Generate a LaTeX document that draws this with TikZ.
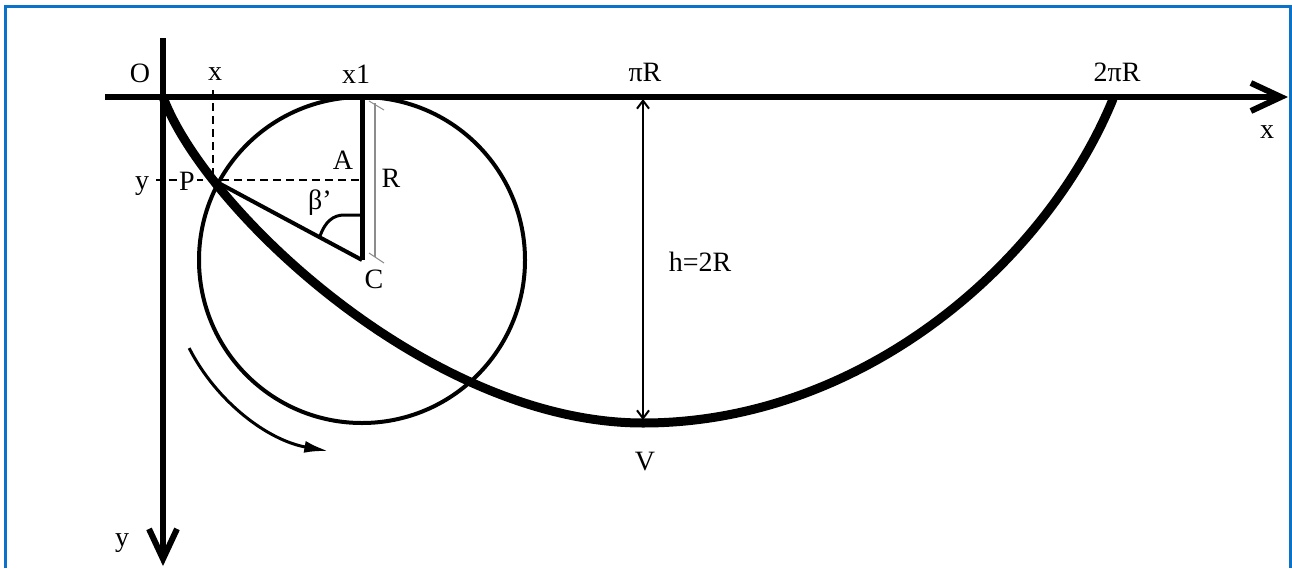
\documentclass[tikz,border=0pt]{standalone}
\usepackage{fontspec}
\setmainfont{Liberation Serif}
\usepackage{tikz}
\usetikzlibrary{arrows.meta,positioning,calc}
\definecolor{FrameBlue}{HTML}{0A72C8}
\definecolor{DimGray}{HTML}{8C8C8C}

\begin{document}
\begin{tikzpicture}[x=1pt,y=-1pt,lbl/.style={inner sep=0pt,font=\fontsize{28}{30}\selectfont},axisline/.style={line width=6pt,-{Straight Barb[length=30pt,width=28pt]}},helpline/.style={dashed,line width=2.5pt,dash pattern=on 8pt off 5pt}]
\useasboundingbox (0,0) rectangle (1292,568);
\draw[FrameBlue,line width=3pt] (5,568) |- (1290,6) -- (1290,568);
% points
\coordinate (O) at (163,97);\coordinate (Xs) at (105,97);\coordinate (Xe) at (1288,97);
\coordinate (Ys) at (163,38);\coordinate (Ye) at (163,566);
\coordinate (P) at (213,180);\coordinate (C) at (362,260);\coordinate (X1) at (362,97);\coordinate (A) at (362,180);
\coordinate (Xp) at (213,90);\coordinate (Yp) at (156,180);
\coordinate (V) at (643,423);\coordinate (E) at (1113,99);
\coordinate (Htop) at (643,99);\coordinate (Hbot) at (643,420);
% rolling circle and cycloid
\draw[line width=4pt] (C) circle[radius=163pt];
\draw[line width=9pt,line cap=round] (O) .. controls (205,210) and (430,423) .. (V) .. controls (860,423) and (1045,265) .. (E);
\draw[line width=3pt,-{Latex[length=24pt,width=12pt]}] ($(C)+(153:194)$) arc[start angle=153,end angle=100,radius=194];
% construction lines
\draw[helpline] (Xp) -- (P);\draw[helpline] (Yp) -- (A);
\draw[line width=5pt] (X1) -- (C);\draw[line width=4pt] (P) -- (C);
\draw[line width=3pt] (320,236) .. controls (325,222) and (333,215) .. (344,215) -- (361,215);
\draw[DimGray,line width=1.2pt] (375,103) -- (375,257);
\draw[DimGray,line width=1pt] (369,101) -- (384,110);\draw[DimGray,line width=1pt] (369,253) -- (384,263);
\draw[line width=2pt,{Straight Barb[length=8pt,width=12pt]}-{Straight Barb[length=8pt,width=12pt]}] (Htop) -- (Hbot);
% axes
\draw[axisline] (Xs) -- (Xe);\draw[axisline] (Ys) -- (Ye);
% labels
\node[lbl] (lO) at (140,73) {O};
\node[lbl] (lx) at (215,74) {x};
\node[lbl] (lx1) at (356,74) {x1};
\node[lbl] (lpiR) at (645,72) {πR};
\node[lbl] (l2piR) at (1117,72) {2πR};
\node[lbl] (lxaxis) at (1267,132) {x};
\node[lbl] (ly) at (142,186) {y};
\node[lbl,fill=white,inner sep=2pt] (lP) at (187,181) {P};
\node[lbl] (lA) at (343,160) {A};
\node[lbl] (lR) at (391,178) {R};
\node[lbl] (lbeta) at (320,203) {β'};
\node[lbl] (lC) at (374,279) {C};
\node[lbl] (lh) at (700,262) {h=2R};
\node[lbl] (lV) at (645,462) {V};
\node[lbl] (lyaxis) at (122,543) {y};
\end{tikzpicture}
\end{document}
